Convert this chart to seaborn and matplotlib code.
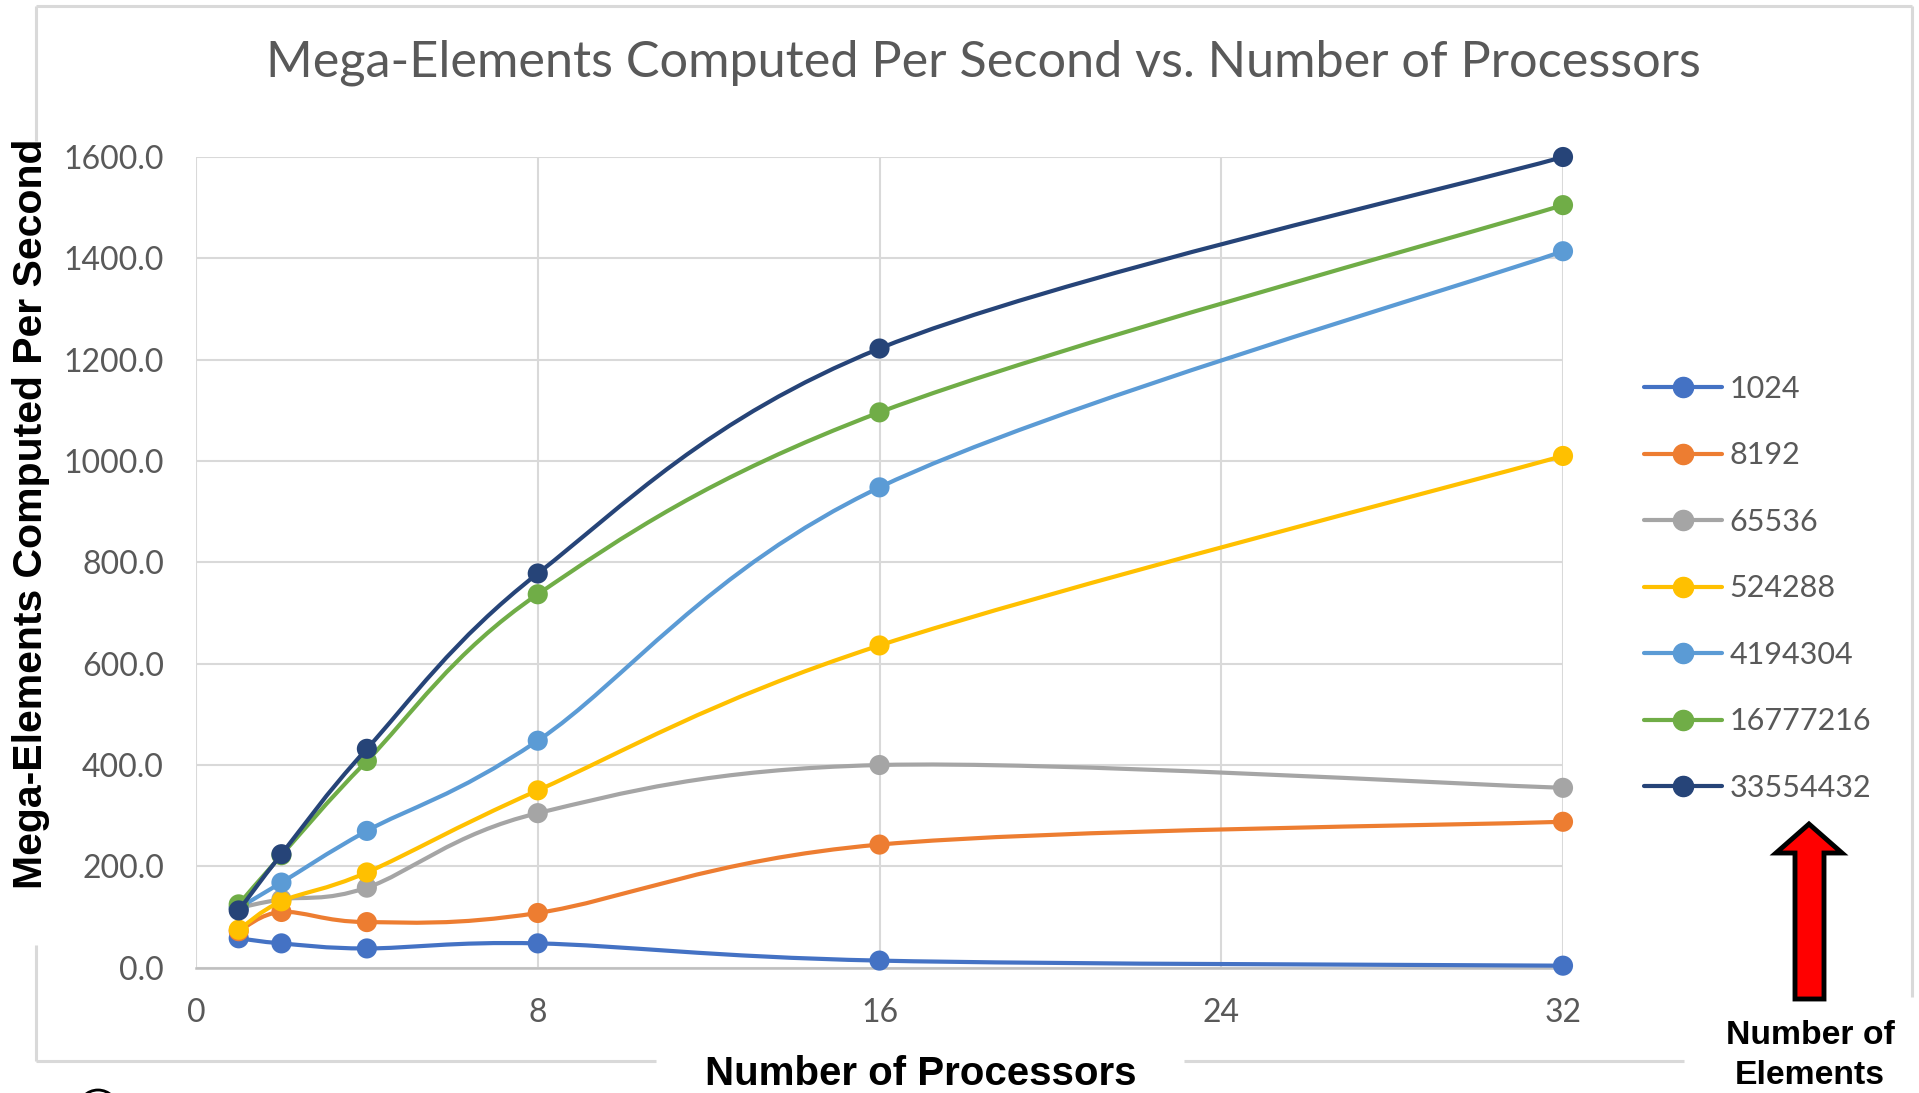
import numpy as np
import pandas as pd
import matplotlib
matplotlib.use("Agg")
import matplotlib.pyplot as plt
import seaborn as sns
from matplotlib.path import Path
from matplotlib.patches import PathPatch, Polygon, Circle
from matplotlib.lines import Line2D
from matplotlib.ticker import FormatStrFormatter

sns.set_style("white")
plt.rcParams['font.family'] = ['Lato', 'DejaVu Sans']

# data
processors = [1, 2, 4, 8, 16, 32]
sizes = ['1024', '8192', '65536', '524288', '4194304', '16777216', '33554432']
mes_1024 = [58, 48, 38, 48, 14, 4]
mes_8192 = [72, 110, 90, 108, 243, 288]
mes_65536 = [118, 135, 158, 305, 400, 355]
mes_524288 = [75, 131, 188, 350, 636, 1010]
mes_4194304 = [118, 168, 270, 448, 948, 1414]
mes_16777216 = [125, 222, 408, 737, 1096, 1505]
mes_33554432 = [113, 224, 432, 778, 1222, 1600]
series = [mes_1024, mes_8192, mes_65536, mes_524288,
          mes_4194304, mes_16777216, mes_33554432]

colors = ['#4472C4', '#ED7D31', '#A5A5A5', '#FFC000',
          '#5B9BD5', '#70AD47', '#264478']

df = pd.DataFrame([(s, p, v) for s, vals in zip(sizes, series)
                   for p, v in zip(processors, vals)],
                  columns=['size', 'procs', 'mes'])

W, H = 1919, 1093
GRAY_TXT = '#595959'
fig = plt.figure(figsize=(W / 100, H / 100), dpi=100)
ax = fig.add_axes([196 / W, 1 - 967.7 / H, (1563 - 196) / W, (967.7 - 157) / H])


def smooth_path(xs, ys):
    # Excel-style smoothed line: Catmull-Rom as cubic Bezier segments
    pts = np.column_stack([xs, ys]).astype(float)
    ext = np.vstack([pts[0], pts, pts[-1]])
    verts = [pts[0]]
    codes = [Path.MOVETO]
    for i in range(len(pts) - 1):
        p0, p1, p2, p3 = ext[i], ext[i + 1], ext[i + 2], ext[i + 3]
        verts += [p1 + (p2 - p0) / 6, p2 - (p3 - p1) / 6, p2]
        codes += [Path.CURVE4] * 3
    return Path(verts, codes)


for k, (name, col) in enumerate(zip(sizes, colors)):
    sub = df[df['size'] == name]
    ax.add_patch(PathPatch(smooth_path(sub['procs'], sub['mes']),
                           facecolor='none', edgecolor=col, lw=3,
                           zorder=3 + 2 * k, capstyle='round', clip_on=False))
    sns.scatterplot(data=sub, x='procs', y='mes', color=col, s=210,
                    edgecolor='none', ax=ax, zorder=4 + 2 * k, legend=False,
                    clip_on=False)

ax.set_xlim(0, 32)
ax.set_ylim(0, 1600)
ax.set_xticks([0, 8, 16, 24, 32])
ax.set_yticks(np.arange(0, 1601, 200))
ax.yaxis.set_major_formatter(FormatStrFormatter('%.1f'))
ax.grid(True, color='#d9d9d9', lw=1.5)
ax.set_axisbelow(True)
for side in ['top', 'right', 'left']:
    ax.spines[side].set_visible(False)
ax.spines['bottom'].set_color('#bfbfbf')
ax.spines['bottom'].set_linewidth(1.8)
ax.tick_params(axis='both', length=0, labelsize=23, labelcolor=GRAY_TXT)
ax.tick_params(axis='y', pad=23)
ax.tick_params(axis='x', pad=22)
ax.set_xlabel('')
ax.set_ylabel('')

handles = [Line2D([], [], color=c, lw=3, marker='o', markersize=14.5)
           for c in colors]
fig.legend(handles, sizes, loc='upper left', frameon=False,
           bbox_to_anchor=(1644 / W, 1 - 375 / H), borderpad=0,
           borderaxespad=0, fontsize=22, labelcolor=GRAY_TXT,
           handlelength=2.55, handletextpad=0.25, labelspacing=1.26)

# overlay in pixel coordinates for the slide decorations
ov = fig.add_axes([0, 0, 1, 1], zorder=5)
ov.set_xlim(0, W)
ov.set_ylim(H, 0)
ov.axis('off')
ov.patch.set_alpha(0)

bc = '#d9d9d9'
for (x0, y0), (x1, y1) in [((36, 6), (1912, 6)), ((36, 6), (36, 141)),
                           ((36, 945), (36, 1061)), ((36, 1061), (656, 1061)),
                           ((1184, 1061), (1684, 1061)), ((1912, 6), (1912, 997))]:
    ov.plot([x0, x1], [y0, y1], color=bc, lw=2.2, solid_capstyle='butt')

ov.text(983, 63, 'Mega-Elements Computed Per Second vs. Number of Processors',
        ha='center', va='center', fontsize=36.3, color=GRAY_TXT)

bold = dict(family=['Liberation Sans', 'DejaVu Sans'], fontweight='bold', color='black')
ov.text(31, 514, 'Mega-Elements Computed Per Second', rotation=90,
        ha='center', va='center', fontsize=29.5, **bold)
ov.text(921, 1074, 'Number of Processors', ha='center', va='center',
        fontsize=29, **bold)
ov.text(1810, 1035, 'Number of', ha='center', va='center', fontsize=24.3, **bold)
ov.text(1810, 1076, 'Elements', ha='center', va='center', fontsize=24.3, **bold)

arrow = [(1809, 824), (1842, 853), (1824, 853), (1824, 999), (1795, 999),
         (1795, 853), (1776, 853)]
ov.add_patch(Polygon(arrow, closed=True, facecolor='#ff0000',
                     edgecolor='black', lw=3.5, joinstyle='miter'))

# cropped logo edge at the bottom-left of the slide
ov.add_patch(Circle((98, 1110), 20, facecolor='none', edgecolor='black', lw=2))

fig.savefig('out.png', dpi=100)
